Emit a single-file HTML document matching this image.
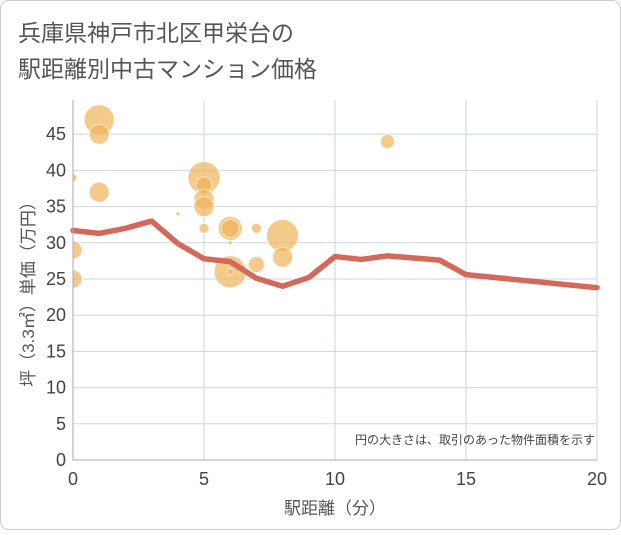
<!DOCTYPE html>
<html><head><meta charset="utf-8"><style>
body{margin:0;background:#fff;font-family:"Liberation Sans","Noto Sans CJK JP",sans-serif}
</style></head><body>
<svg width="621" height="530" xmlns="http://www.w3.org/2000/svg">
<rect x="0.5" y="0.5" width="620" height="529" rx="8" fill="#fff" stroke="#ccc"/>
<text x="18" y="41" font-size="23" fill="#555" font-family="Liberation Sans,Noto Sans CJK JP,sans-serif">兵庫県神戸市北区甲栄台の</text>
<text x="18" y="77" font-size="23" fill="#555" font-family="Liberation Sans,Noto Sans CJK JP,sans-serif">駅距離別中古マンション価格</text>
<defs><clipPath id="pc"><rect x="73" y="100" width="524" height="360"/></clipPath></defs>
<g id="grid"></g>
<g id="bubbles" clip-path="url(#pc)"></g>
<g id="line"></g>
<g id="axes"></g>
<text x="595" y="444" font-size="12" fill="#444" text-anchor="end">円の大きさは、取引のあった物件面積を示す</text>
<text x="335" y="514" font-size="17" fill="#555" text-anchor="middle">駅距離（分）</text>
<text transform="translate(34,290) rotate(-90)" font-size="17" fill="#555" text-anchor="middle">坪（3.3㎡）単価（万円）</text>
</svg>
<script>
const xTicks=[0,5,10,15,20];
const yTicks=[0,5,10,15,20,25,30,35,40,45];
const lineX=[0,1,2,3,4,5,6,7,8,9,10,11,12,13,14,15,20];
const lineY=[31.7,31.3,32,33,29.9,27.8,27.4,25.1,24,25.2,28.1,27.7,28.2,27.9,27.6,25.6,23.8];
const bubX=[1,1,1,0,0,0,4,5,5,5,5,5,5,6,6,6,6,6,7,7,8,8,12];
const bubY=[47,45,37,39,29,25,34,39,38,37,36,35,32,32,32,30,26,26,32,27,31,28,44];
const bubR=[15,10,10,4,9,9,2,16,8,3,10,10,5,12,9,2,16,3,5,8,16,10,7];
const NS="http://www.w3.org/2000/svg";
const X=v=>73+v*(524/20), Y=v=>460-v*7.24;
function mk(t,a,p){const e=document.createElementNS(NS,t);for(const k in a)e.setAttribute(k,a[k]);p.appendChild(e);return e;}
const g=document.getElementById('grid');
yTicks.forEach(v=>{const l=mk('line',{x1:73,x2:597,y1:Y(v),y2:Y(v),stroke:'#ccd6e0','stroke-width':1},g);

});
xTicks.forEach(v=>{const l=mk('line',{x1:X(v),x2:X(v),y1:100,y2:460,stroke:'#ccd6e0','stroke-width':1},g);

});
const b=document.getElementById('bubbles');
bubX.forEach((v,i)=>{const c=mk('circle',{cx:X(v),cy:Y(bubY[i]),r:bubR[i],fill:'#efb45a','fill-opacity':0.7,stroke:'#fff','stroke-opacity':0.6,'stroke-width':1},b);

});
const ln=document.getElementById('line');
const p=mk('polyline',{points:lineX.map((v,i)=>X(v)+','+Y(lineY[i])).join(' '),fill:'none',stroke:'#d4695a','stroke-width':5.5,'stroke-linejoin':'round','stroke-linecap':'round'},ln);


const ax=document.getElementById('axes');
const a1=mk('polyline',{points:'73,100 73,460 597,460',fill:'none',stroke:'#aaa','stroke-width':1},ax);


yTicks.forEach(v=>{const t=mk('text',{x:66,y:Y(v)+6,'font-size':18,fill:'#444','text-anchor':'end'},ax);t.textContent=v;

});
xTicks.forEach(v=>{const t=mk('text',{x:X(v),y:485,'font-size':18,fill:'#444','text-anchor':'middle'},ax);t.textContent=v;

});
</script>
</body></html>
